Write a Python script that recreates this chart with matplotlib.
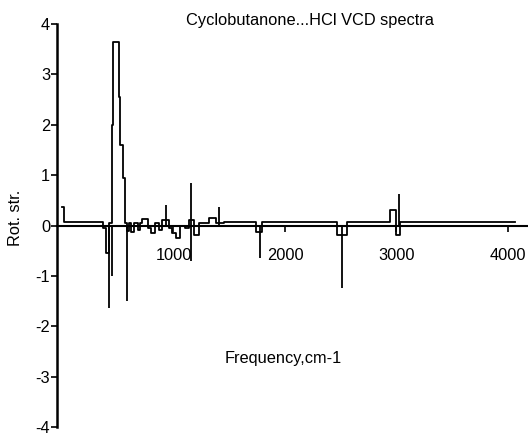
import matplotlib
matplotlib.use("Agg")
import matplotlib.pyplot as plt

plt.rcParams['font.family'] = ['Liberation Sans', 'DejaVu Sans']

# --- Data ---
# stepped VCD envelope: value holds from freq[i] to freq[i+1]
step_freq = [0, 15, 370, 395, 425, 448, 457, 511, 517, 545, 565,
             580, 600, 620, 650, 680, 700, 720, 770, 800, 830, 870, 900,
             960, 990, 1020, 1060, 1100, 1140, 1180, 1230, 1320, 1380, 1450,
             1740, 1790, 2470, 2560, 2940, 2995, 3030, 4060]
step_val = [0.36, 0.06, -0.05, -0.55, 0.05, 2.0, 3.65, 2.55, 1.6, 0.95, 0.05,
            -0.1, 0.05, -0.12, 0.05, -0.08, 0.05, 0.12, -0.05, -0.15, 0.05, -0.08, 0.1,
            -0.05, -0.15, -0.25, 0.0, -0.05, 0.1, -0.18, 0.05, 0.15, 0.05, 0.06,
            -0.12, 0.06, -0.18, 0.06, 0.3, -0.18, 0.06, 0.06]

# single sharp bands drawn as sticks from zero
spike_freq = [420, 450, 583, 932, 1157, 1157, 1408, 1776, 2511, 3022]
spike_val = [-1.63, -1.0, -1.5, 0.4, 0.85, -0.7, 0.36, -0.64, -1.25, 0.62]

x_ticks = [1000, 2000, 3000, 4000]
y_ticks = [-4, -3, -2, -1, 0, 1, 2, 3, 4]

FS = 11.8

# --- Plotting ---
fig = plt.figure(figsize=(5.28, 4.33), dpi=100)
ax = fig.add_axes([57 / 528, 6 / 433, 1 - 57 / 528, (427 - 24) / 433])

ax.step(step_freq, step_val, where='post', color='black', linewidth=1.3)
ax.vlines(spike_freq, 0, spike_val, color='black', linewidth=1.3)

ax.set_xlim(-45, 4180)
ax.set_ylim(-4, 4)

ax.spines['top'].set_visible(False)
ax.spines['right'].set_visible(False)
ax.spines['bottom'].set_position(('data', 0))
ax.spines['left'].set_linewidth(1.8)
ax.spines['bottom'].set_linewidth(1.5)

ax.set_xticks(x_ticks)
ax.set_yticks(y_ticks)
ax.set_yticklabels([str(v) for v in y_ticks])
ax.tick_params(axis='x', direction='out', length=4, width=1.2, pad=12, labelsize=FS)
ax.tick_params(axis='y', direction='out', length=4, width=1.2, pad=1, labelsize=FS)

fig.text(310 / 528, 1 - 20 / 433, 'Cyclobutanone...HCl VCD spectra',
         ha='center', va='center', fontsize=FS)
fig.text(283 / 528, 1 - 358 / 433, 'Frequency,cm-1',
         ha='center', va='center', fontsize=FS)
fig.text(15 / 528, 1 - 218 / 433, 'Rot. str.', rotation=90,
         ha='center', va='center', fontsize=FS)

fig.savefig('out.png', dpi=100)
